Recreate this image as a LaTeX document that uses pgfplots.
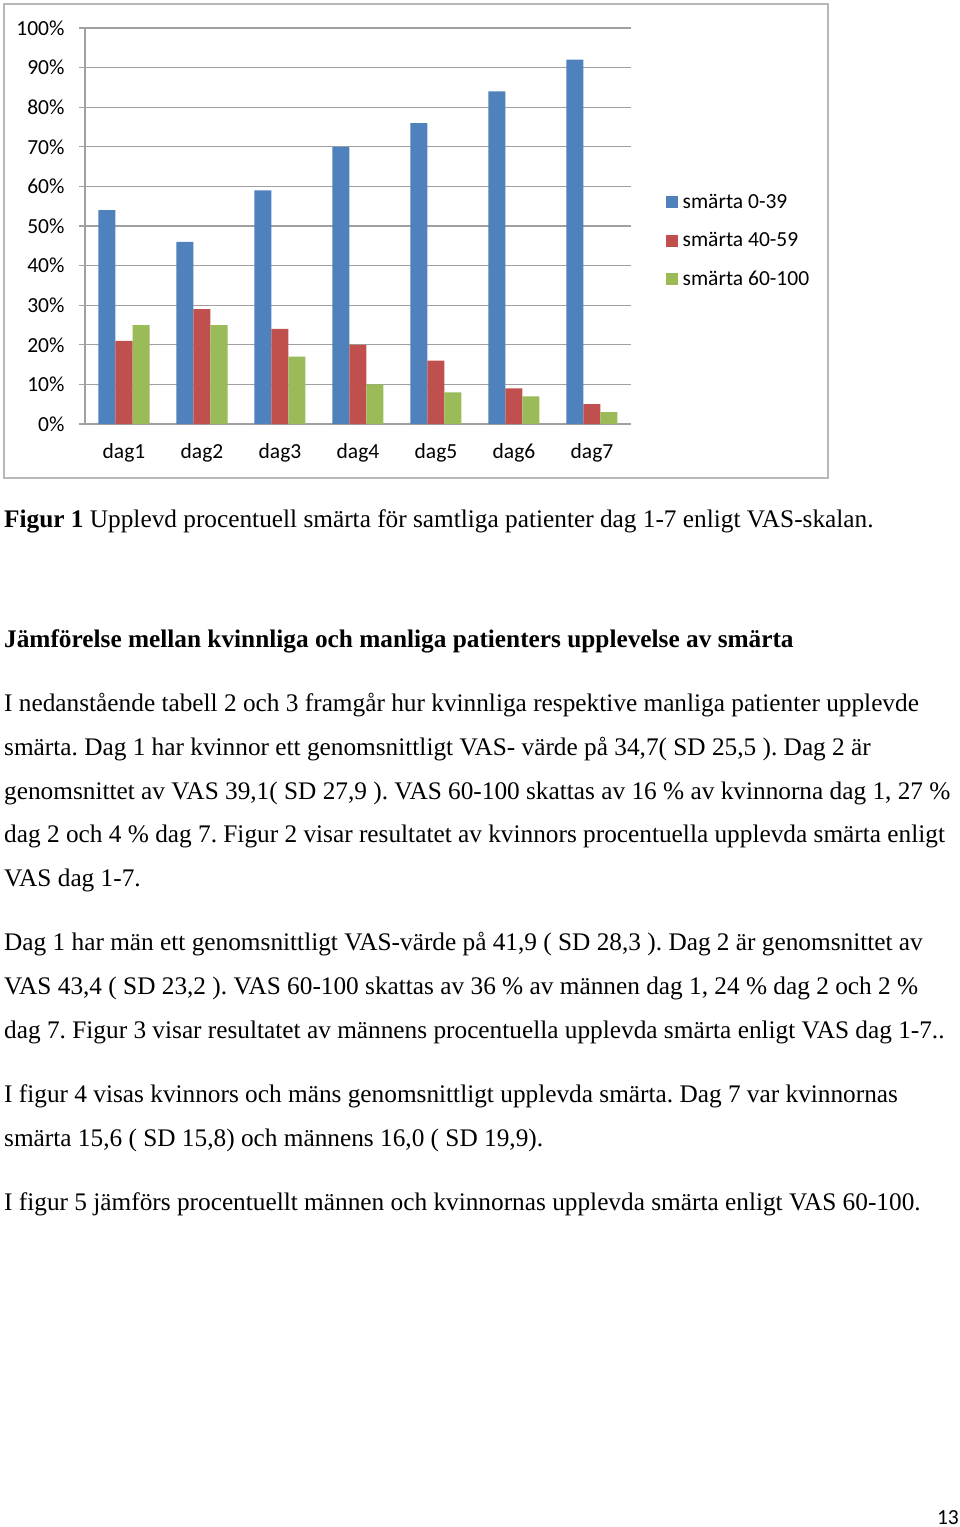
\documentclass[border=0pt]{standalone}
\usepackage{fontspec}
\setmainfont{Liberation Serif}
\newfontfamily\calibri{Carlito}
\usepackage{pgfplots}
\pgfplotsset{compat=1.18}
\definecolor{cblue}{HTML}{4F81BD}
\definecolor{cred}{HTML}{C0504D}
\definecolor{cgreen}{HTML}{9BBB59}
\definecolor{cgrid}{HTML}{A0A0A0}
\definecolor{cframe}{HTML}{B8B8B8}
\newcommand{\chfont}{\calibri\fontsize{21.5bp}{25bp}\selectfont}
\newcommand{\bodyfont}{\frenchspacing\fontsize{25.3bp}{29bp}\selectfont}
\begin{document}
\begin{tikzpicture}
\path[use as bounding box, fill=white] (0,0) rectangle (960bp,-1527bp);
\draw[cframe, line width=1.6bp] (4bp,-4bp) rectangle (828bp,-478bp);
\begin{axis}[
  at={(85bp,-424bp)}, anchor=south west,
  scale only axis, width=546bp, height=396bp,
  ybar, bar width=17bp, ybar=0bp,
  ymin=0, ymax=100, ytick={0,10,...,100},
  xmin=-0.5, xmax=6.5,
  xtick={0,...,6},
  xticklabels={dag1,dag2,dag3,dag4,dag5,dag6,dag7},
  extra x ticks={-0.5,0.5,1.5,2.5,3.5,4.5,5.5,6.5},
  extra x tick labels={},
  extra x tick style={grid=none, major tick length=6bp, tick style={cgrid, line width=1.2bp}},
  x tick style={draw=none},
  y tick style={cgrid, line width=1.2bp},
  major tick length=6bp,
  tick align=outside,
  axis x line*=bottom, axis y line*=left,
  axis line style={cgrid, line width=1.3bp},
  ymajorgrids, grid style={cgrid, line width=1.2bp},
  /pgf/number format/assume math mode=true,
  yticklabel={\pgfmathprintnumber{\tick}\%},
  tick label style={font=\chfont, text=black},
  yticklabel style={xshift=-11bp},
  xticklabel style={yshift=-10bp},
  legend style={at={(1.064,0.463)}, anchor=west, draw=none, fill=none,
    font=\chfont, row sep=18.5bp, inner sep=0pt},
  legend cell align=left,
  legend image code/.code={\fill[#1] (0bp,-6bp) rectangle (12bp,6bp); \path (14.5bp,0bp);},
]
\addplot[fill=cblue, draw=none] coordinates {(0,54) (1,46) (2,59) (3,70) (4,76) (5,84) (6,92)};
\addplot[fill=cred, draw=none] coordinates {(0,21) (1,29) (2,24) (3,20) (4,16) (5,9) (6,5)};
\addplot[fill=cgreen, draw=none] coordinates {(0,25) (1,25) (2,17) (3,10) (4,8) (5,7) (6,3)};
\legend{smärta 0-39, smärta 40-59, smärta 60-100}
\end{axis}
\begin{scope}[every node/.style={anchor=base west, inner sep=0pt, font=\bodyfont}]
\node at (4bp,-527bp) {\textbf{Figur 1} Upplevd procentuell smärta för samtliga patienter dag 1-7 enligt VAS-skalan.};
\node at (4bp,-647bp) {\textbf{Jämförelse mellan kvinnliga och manliga patienters upplevelse av smärta}};
\node at (4bp,-711bp) {I nedanstående tabell 2 och 3 framgår hur kvinnliga respektive manliga patienter upplevde};
\node at (4bp,-755bp) {smärta. Dag 1 har kvinnor ett genomsnittligt VAS- värde på 34,7( SD 25,5 ). Dag 2 är};
\node at (4bp,-799bp) {genomsnittet av VAS 39,1( SD 27,9 ). VAS 60-100 skattas av 16 \% av kvinnorna dag 1, 27 \%};
\node at (4bp,-842bp) {dag 2 och 4 \% dag 7. Figur 2 visar resultatet av kvinnors procentuella upplevda smärta enligt};
\node at (4bp,-886bp) {VAS dag 1-7.};
\node at (4bp,-950bp) {Dag 1 har män ett genomsnittligt VAS-värde på 41,9 ( SD 28,3 ). Dag 2 är genomsnittet av};
\node at (4bp,-994bp) {VAS 43,4 ( SD 23,2 ). VAS 60-100 skattas av 36 \% av männen dag 1, 24 \% dag 2 och 2 \%};
\node at (4bp,-1038bp) {dag 7. Figur 3 visar resultatet av männens procentuella upplevda smärta enligt VAS dag 1-7..};
\node at (4bp,-1102bp) {I figur 4 visas kvinnors och mäns genomsnittligt upplevda smärta. Dag 7 var kvinnornas};
\node at (4bp,-1146bp) {smärta 15,6 ( SD 15,8) och männens 16,0 ( SD 19,9).};
\node at (4bp,-1210bp) {I figur 5 jämförs procentuellt männen och kvinnornas upplevda smärta enligt VAS 60-100.};
\end{scope}
\node[anchor=base east, inner sep=0pt, font=\chfont] at (959bp,-1524bp) {13};
\end{tikzpicture}
\end{document}
